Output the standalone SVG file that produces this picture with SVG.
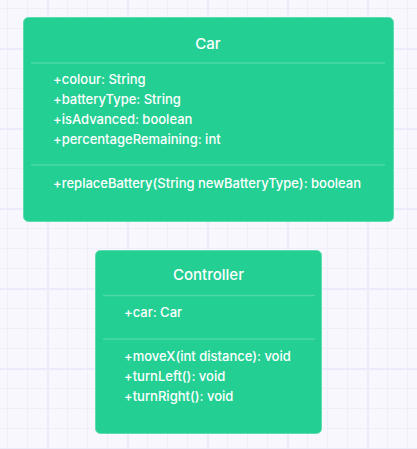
<svg xmlns="http://www.w3.org/2000/svg" width="417" height="449" viewBox="0 0 417 449">
  <defs>
    <pattern id="minor" x="7" y="8" width="20" height="20" patternUnits="userSpaceOnUse">
      <path d="M0.5 0V20M0 0.5H20" fill="none" stroke="#efeffb" stroke-width="1"/>
    </pattern>
    <pattern id="major" x="47" y="48" width="80" height="80" patternUnits="userSpaceOnUse">
      <path d="M1 0V80M0 1H80" fill="none" stroke="#ebebfa" stroke-width="2"/>
    </pattern>
  </defs>
  <style>
    .box { fill: #24cf94; stroke: #5ddcae; stroke-width: 1; }
    .div { stroke: #4bd9a6; stroke-width: 1.5; }
    .title { font-family: Inter, "Liberation Sans", sans-serif; font-size: 15px; font-weight: 500; fill: #ffffff; text-anchor: middle; }
    .mem { font-family: Inter, "Liberation Sans", sans-serif; font-size: 13px; font-weight: 500; fill: #ffffff; }
  </style>
  <rect width="417" height="449" fill="#f7f7fd"/>
  <rect width="417" height="449" fill="url(#minor)"/>
  <rect width="417" height="449" fill="url(#major)"/>
  <g id="connectors"/>
  <g id="car">
    <rect class="box" x="23.5" y="17.5" width="370" height="204" rx="5"/>
    <text class="title" x="208" y="48.5">Car</text>
    <line class="div" x1="31" y1="63" x2="385" y2="63"/>
    <text class="mem" x="53" y="84">+colour: String</text>
    <text class="mem" x="53" y="104">+batteryType: String</text>
    <text class="mem" x="53" y="124">+isAdvanced: boolean</text>
    <text class="mem" x="53" y="144">+percentageRemaining: int</text>
    <line class="div" x1="31" y1="165" x2="385" y2="165"/>
    <text class="mem" x="53" y="188">+replaceBattery(String newBatteryType): boolean</text>
  </g>
  <g id="controller">
    <rect class="box" x="95.5" y="250.5" width="226" height="183" rx="5"/>
    <text class="title" x="208.5" y="279.5">Controller</text>
    <line class="div" x1="103" y1="295.5" x2="315" y2="295.5"/>
    <text class="mem" x="124" y="317">+car: Car</text>
    <line class="div" x1="103" y1="339" x2="315" y2="339"/>
    <text class="mem" x="124" y="361">+moveX(int distance): void</text>
    <text class="mem" x="124" y="381">+turnLeft(): void</text>
    <text class="mem" x="124" y="400.5">+turnRight(): void</text>
  </g>
</svg>
